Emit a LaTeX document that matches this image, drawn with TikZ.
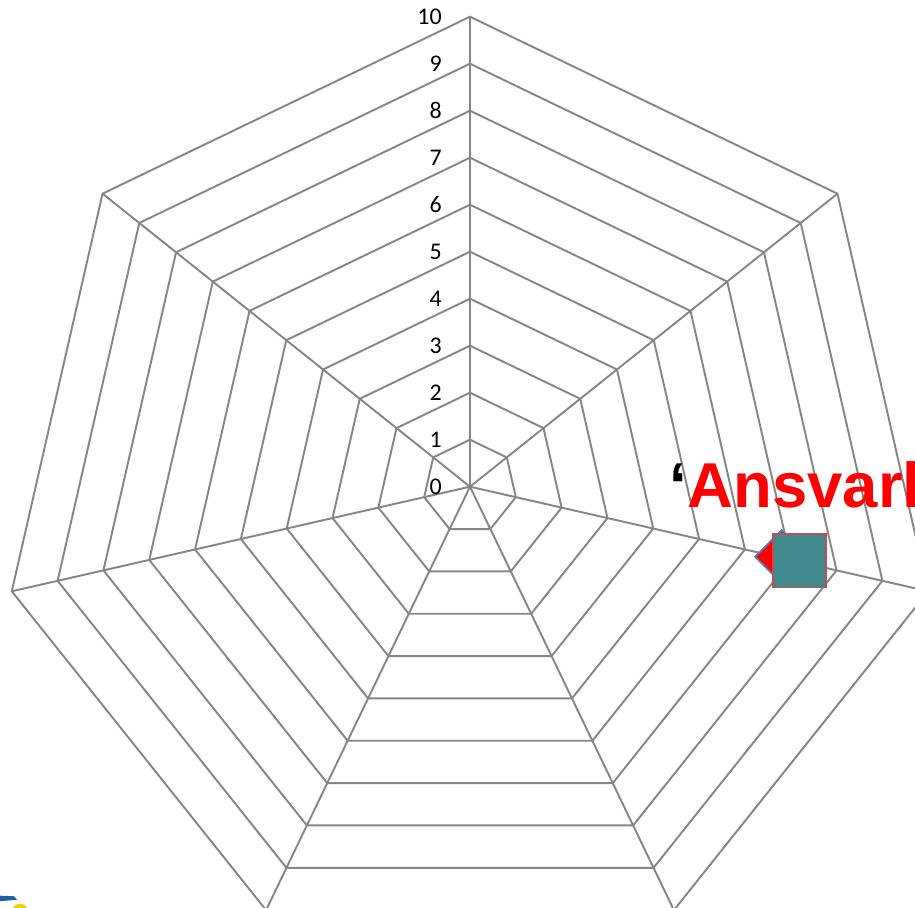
\documentclass[tikz,border=0pt]{standalone}
\usepackage{fontspec}
\setmainfont{Carlito}
\newfontfamily\titlefont{Liberation Sans}
\usetikzlibrary{shapes.geometric, positioning}
\definecolor{gridgray}{HTML}{868686}
\definecolor{markteal}{HTML}{3F8A8F}
\definecolor{markedge}{HTML}{C0504D}
\definecolor{markblue}{HTML}{4F81BD}
\definecolor{logoblue}{HTML}{1F5FA8}
\definecolor{logoyellow}{HTML}{F5D000}

\begin{document}
\begin{tikzpicture}[x=0.02cm, y=0.02cm,
    gridline/.style={draw=gridgray, line width=1.1pt},
    scalelbl/.style={anchor=east, inner sep=0pt, font=\fontsize{13.6}{16}\selectfont}]
    \useasboundingbox (-470,-420.3) rectangle (445,486.7);
    % heptagon rings and spokes
    \foreach \i in {1,...,10}
        \draw[gridline] (90:47*\i) \foreach \k in {1,...,6} {-- (90-\k*360/7:47*\i)} -- cycle;
    \foreach \k in {0,...,6}
        \draw[gridline] (0,0) -- (90-\k*360/7:470);
    % axis labels
    \foreach \i in {0,...,10}
        \node[scalelbl] (lbl\i) at (-28,47*\i) {\i};
    % overlaid title and legend marker
    \node[anchor=base west, inner sep=0pt, text=red, font=\titlefont\bfseries\fontsize{36.1}{40}\selectfont] (ansvar) at (217.3,-20.6) {Ansvarl};
    \node[anchor=base east, inner sep=0pt, font=\titlefont\bfseries\fontsize{36.1}{40}\selectfont] (quote) at (ansvar.base west) {‘};
    \node[diamond, draw=markblue, fill=red, line width=1pt, minimum size=1.08cm, inner sep=0pt] (mkdiamond) at (311.7,-70) {};
    \node[draw=markedge, fill=markteal, line width=1pt, minimum size=1.066cm, inner sep=0pt] (mksquare) at (329.4,-74.2) {};
    % logo fragment
    \fill[logoblue] (-470,-409) -- (-456,-409.5) -- (-453,-413) -- (-470,-414.5) -- cycle;
    \fill[logoyellow] (-450,-425) circle (8);
\end{tikzpicture}
\end{document}
